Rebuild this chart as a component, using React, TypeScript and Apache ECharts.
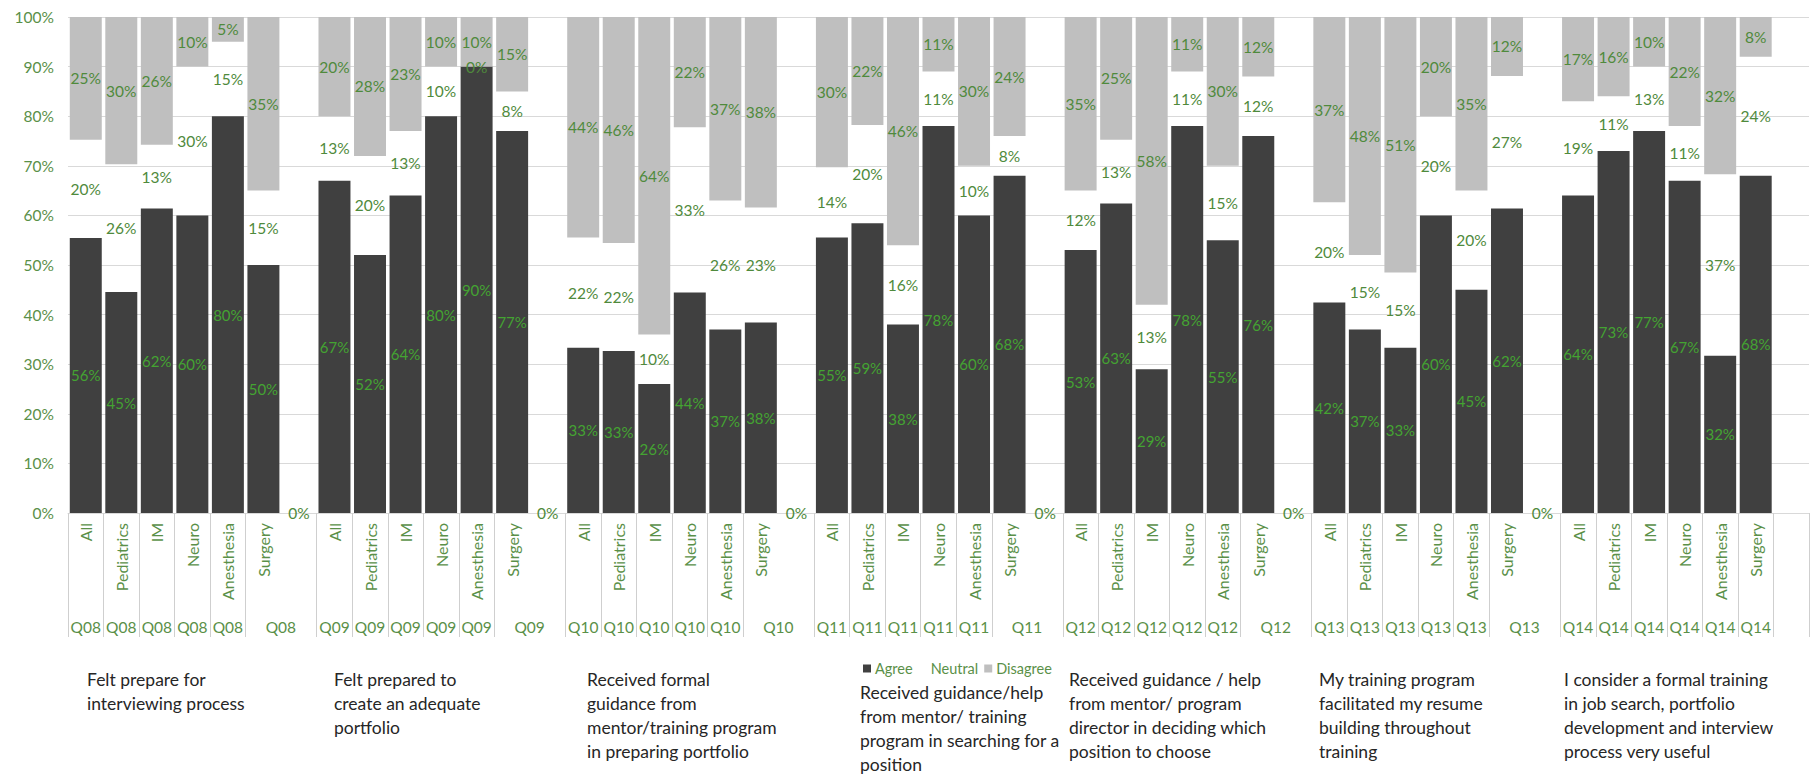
import React, { useEffect, useRef } from 'react';
import * as echarts from 'echarts';

const questions = ['Q08', 'Q09', 'Q10', 'Q11', 'Q12', 'Q13', 'Q14'];
const specialties = ['All', 'Pediatrics', 'IM', 'Neuro', 'Anesthesia', 'Surgery'];

// one row per question, one value per specialty (percent)
const agree = [
  [56, 45, 62, 60, 80, 50],
  [67, 52, 64, 80, 90, 77],
  [33, 33, 26, 44, 37, 38],
  [55, 59, 38, 78, 60, 68],
  [53, 63, 29, 78, 55, 76],
  [42, 37, 33, 60, 45, 62],
  [64, 73, 77, 67, 32, 68],
];
const neutral = [
  [20, 26, 13, 30, 15, 15],
  [13, 20, 13, 10, 0, 8],
  [22, 22, 10, 33, 26, 23],
  [14, 20, 16, 11, 10, 8],
  [12, 13, 13, 11, 15, 12],
  [20, 15, 15, 20, 20, 27],
  [19, 11, 13, 11, 37, 24],
];
const disagree = [
  [25, 30, 26, 10, 5, 35],
  [20, 28, 23, 10, 10, 15],
  [44, 46, 64, 22, 37, 38],
  [30, 22, 46, 11, 30, 24],
  [35, 25, 58, 11, 30, 12],
  [37, 48, 51, 20, 35, 12],
  [17, 16, 10, 22, 32, 8],
];
// value shown in the empty slot after each question (null = nothing)
const gapValues = [0, 0, 0, 0, 0, 0, null];

const descriptions = [
  'Felt prepare for\ninterviewing process',
  'Felt prepared to\ncreate an adequate\nportfolio',
  'Received formal\nguidance from\nmentor/training program\nin preparing portfolio',
  'Received guidance/help\nfrom mentor/ training\nprogram in searching for a\nposition',
  'Received guidance / help\nfrom mentor/ program\ndirector in deciding which\nposition to choose',
  'My training program\nfacilitated my resume\nbuilding throughout\ntraining',
  'I consider a formal training\nin job search, portfolio\ndevelopment and interview\nprocess very useful',
];

const GREEN = '#5a9048';
const FONT = 'Lato';

function buildOption() {
  const cats: string[] = [];
  const aData: any[] = [];
  const nData: any[] = [];
  const dData: any[] = [];
  questions.forEach((q, qi) => {
    specialties.forEach((s, si) => {
      cats.push(q + '|' + s);
      const a = agree[qi][si];
      const n = neutral[qi][si];
      const d = disagree[qi][si];
      const tot = a + n + d;
      aData.push({ value: (a / tot) * 100, lab: a });
      nData.push({ value: (n / tot) * 100, lab: n });
      dData.push({ value: (d / tot) * 100, lab: d });
    });
    cats.push(q + '|');
    aData.push({ value: null });
    const g = gapValues[qi];
    nData.push(g === null ? { value: null } : { value: g, lab: g });
    dData.push({ value: null });
  });

  const labelFmt = (p: any) => (p.data && p.data.lab !== undefined ? p.data.lab + '%' : '');

  const descX = [87, 334, 587, 860, 1069, 1319, 1564];
  const descY = [667, 667, 667, 680, 667, 667, 667];

  return {
    animation: false,
    textStyle: { fontFamily: FONT },
    grid: { left: 68, right: 5, top: 17, bottom: 262, containLabel: false, outerBoundsMode: 'none' },
    legend: {
      left: 858,
      top: 656,
      itemWidth: 8,
      itemHeight: 8,
      itemGap: 6,
      icon: 'rect',
      textStyle: { color: GREEN, fontSize: 14.5, fontFamily: FONT, padding: [0, 0, 0, -1] },
      data: ['Agree', 'Neutral', 'Disagree'],
    },
    xAxis: [
      {
        type: 'category',
        data: cats,
        boundaryGap: true,
        axisLine: { show: true, lineStyle: { color: '#d9d9d9' } },
        axisTick: {
          show: true,
          length: 124,
          interval: (i: number) => !(i % 7 === 6 && i < 48),
          lineStyle: { color: '#cfcfcf' },
        },
        axisLabel: {
          interval: 0,
          rotate: 90,
          margin: 10,
          color: GREEN,
          fontSize: 16,
          fontFamily: FONT,
          formatter: (v: string) => v.split('|')[1],
        },
        splitLine: { show: false },
      },
      {
        type: 'category',
        data: cats,
        position: 'bottom',
        boundaryGap: true,
        axisLine: { show: false },
        axisTick: { show: false },
        axisLabel: {
          interval: 0,
          margin: 106,
          color: GREEN,
          fontSize: 15.5,
          fontFamily: FONT,
          formatter: (v: string, i: number) => {
            const [q, s] = v.split('|');
            if (!s) return '';
            if (s === 'Surgery' && i < 42) return '{m|' + q + '}';
            return q;
          },
          rich: { m: { padding: [0, 0, 0, 35], color: GREEN, fontSize: 15.5, fontFamily: FONT } },
        },
        splitLine: { show: false },
      },
    ],
    yAxis: {
      type: 'value',
      min: 0,
      max: 100,
      interval: 10,
      axisLine: { show: false },
      axisTick: { show: false },
      axisLabel: { formatter: '{value}%', color: GREEN, fontSize: 15.5, fontFamily: FONT, margin: 14 },
      splitLine: { lineStyle: { color: '#d9d9d9' } },
    },
    series: [
      {
        name: 'Agree',
        type: 'bar',
        stack: 'all',
        xAxisIndex: 0,
        barCategoryGap: '10%',
        itemStyle: { color: '#404040' },
        label: { show: true, position: 'inside', color: '#44a332', fontSize: 15, fontFamily: FONT, formatter: labelFmt },
        data: aData,
      },
      {
        name: 'Neutral',
        type: 'bar',
        stack: 'all',
        xAxisIndex: 0,
        barCategoryGap: '10%',
        itemStyle: { color: 'rgba(255,255,255,0)' },
        label: { show: true, position: 'inside', color: '#4f8a3c', fontSize: 15.5, fontFamily: FONT, formatter: labelFmt },
        data: nData,
      },
      {
        name: 'Disagree',
        type: 'bar',
        stack: 'all',
        xAxisIndex: 0,
        barCategoryGap: '10%',
        itemStyle: { color: '#bfbfbf' },
        label: { show: true, position: 'inside', color: '#4f8a3c', fontSize: 15.5, fontFamily: FONT, formatter: labelFmt },
        data: dData,
      },
    ],
    graphic: descriptions.map((t, i) => ({
      type: 'text',
      left: descX[i],
      top: descY[i],
      style: { text: t, fill: '#262626', font: '17.5px ' + FONT, lineHeight: 24 },
    })),
  };
}

export default function App() {
  const ref = useRef<HTMLDivElement>(null);
  useEffect(() => {
    if (!ref.current) return;
    const chart = echarts.init(ref.current, null, { renderer: 'svg' });
    chart.setOption(buildOption() as any);
    return () => chart.dispose();
  }, []);
  return (
    <div
      ref={ref}
      style={{ position: 'fixed', left: 0, top: 0, width: 1814, height: 775, background: '#ffffff' }}
    />
  );
}
